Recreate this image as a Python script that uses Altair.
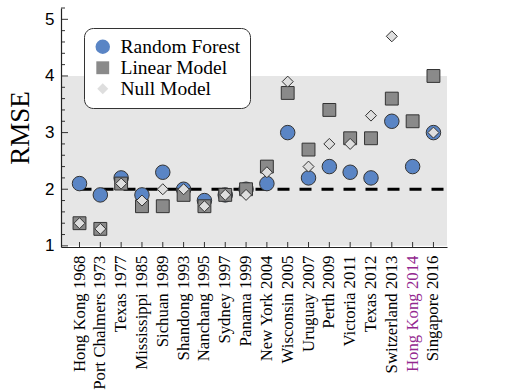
import altair as alt
import pandas as pd

cats = ["Hong Kong 1968", "Port Chalmers 1973", "Texas 1977", "Mississippi 1985",
        "Sichuan 1989", "Shandong 1993", "Nanchang 1995", "Sydney 1997",
        "Panama 1999", "New York 2004", "Wisconsin 2005", "Uruguay 2007",
        "Perth 2009", "Victoria 2011", "Texas 2012", "Switzerland 2013",
        "Hong Kong 2014", "Singapore 2016"]
rf = [2.1, 1.9, 2.2, 1.9, 2.3, 2.0, 1.8, 1.9, 2.0, 2.1, 3.0, 2.2, 2.4, 2.3, 2.2, 3.2, 2.4, 3.0]
lm = [1.4, 1.3, 2.1, 1.7, 1.7, 1.9, 1.7, 1.9, 2.0, 2.4, 3.7, 2.7, 3.4, 2.9, 2.9, 3.6, 3.2, 4.0]
nm = [1.4, 1.3, 2.1, 1.8, 2.0, 2.0, 1.7, 1.9, 1.9, 2.3, 3.9, 2.4, 2.8, 2.8, 3.3, 4.7, None, 3.0]
models = ["Random Forest", "Linear Model", "Null Model"]
major_ticks = [1, 2, 3, 4, 5]
minor_ticks = [1.2, 1.4, 1.6, 1.8, 2.2, 2.4, 2.6, 2.8, 3.2, 3.4, 3.6, 3.8,
               4.2, 4.4, 4.6, 4.8, 5.2]
band_low, band_high = 1, 4
baseline = 2

rows = []
for name, vals in zip(models, [rf, lm, nm]):
    for c, v in zip(cats, vals):
        if v is not None:
            rows.append({"cat": c, "model": name, "rmse": v})
df = pd.DataFrame(rows)

W, H = 386, 239
serif = "Liberation Serif"

xscale = alt.Scale(domain=cats, padding=0.54, align=0.61)
yscale = alt.Scale(domain=[0.98, 5.2], nice=False, zero=False)

xaxis = alt.Axis(labelAngle=-90, labelAlign="right", labelBaseline="middle",
                 labelFont=serif, labelFontSize=16.8, labelPadding=8, tickSize=0,
                 labelColor=alt.expr("datum.value == 'Hong Kong 2014' ? '#93278f' : 'black'"),
                 domainColor="#222", domainWidth=1.2, title=None, grid=False, zindex=1)
yaxis = alt.Axis(values=major_ticks, format="d", tickSize=0, labelFont="Liberation Sans",
                 labelFontSize=17, labelPadding=7, labelColor="black",
                 domainColor="#222", domainWidth=1.2, grid=False, zindex=1,
                 title="RMSE", titleFont=serif, titleFontSize=27,
                 titleFontWeight="normal", titleColor="black", titlePadding=10)

bg = alt.Chart(pd.DataFrame({"lo": [band_low], "hi": [band_high]})).mark_rect(
    color="#e6e6e6").encode(
    y=alt.Y("lo:Q", scale=yscale, axis=yaxis),
    y2="hi:Q",
    x=alt.value(0), x2=alt.value(W))

ymaj = alt.Chart(pd.DataFrame({"v": major_ticks})).mark_rule(
    color="#333", strokeWidth=1).encode(
    y=alt.Y("v:Q", scale=yscale), x=alt.value(0), x2=alt.value(7))
ymin = alt.Chart(pd.DataFrame({"v": minor_ticks})).mark_rule(
    color="#333", strokeWidth=1).encode(
    y=alt.Y("v:Q", scale=yscale), x=alt.value(0), x2=alt.value(4))

xt = alt.Chart(pd.DataFrame({"cat": cats})).mark_rule(
    color="#333", strokeWidth=1).encode(
    x=alt.X("cat:N", scale=xscale, axis=xaxis, sort=cats),
    y=alt.value(H), y2=alt.value(H - 5))

dash = alt.Chart(pd.DataFrame({"cat": [cats[0]], "v": [baseline]})).mark_rule(
    color="black", strokeWidth=3, strokeDash=[12, 10]).encode(
    x=alt.X("cat:N", scale=xscale, sort=cats), x2=alt.value(W),
    y=alt.Y("v:Q", scale=yscale))

leg = alt.Legend(orient="none", legendX=23, legendY=20, title=None,
                 fillColor="white", strokeColor="#333", cornerRadius=9,
                 padding=9, labelFont=serif, labelFontSize=19.5,
                 labelColor="black", symbolStrokeColor="#333",
                 symbolStrokeWidth=1, rowPadding=0, labelOffset=8,
                 symbolOpacity=1)

pts = alt.Chart(df).mark_point(filled=True, stroke="#333", strokeWidth=1,
                               opacity=1).encode(
    x=alt.X("cat:N", scale=xscale, sort=cats),
    y=alt.Y("rmse:Q", scale=yscale),
    fill=alt.Fill("model:N", scale=alt.Scale(domain=models,
                  range=["#5a85c5", "#8a8a8a", "#dedede"]), legend=leg),
    shape=alt.Shape("model:N", scale=alt.Scale(domain=models,
                    range=["circle", "square", "diamond"]), legend=leg),
    size=alt.Size("model:N", scale=alt.Scale(domain=models,
                  range=[210, 121, 115]), legend=leg),
)

chart = alt.layer(bg, ymin, ymaj, xt, dash, pts).properties(
    width=W, height=H, autosize="none",
    padding={"left": 61, "top": 8, "right": 59, "bottom": 145},
    background="white",
).configure_view(stroke=None)

chart.save("out.html", embed_options={"renderer": "svg", "actions": False})
